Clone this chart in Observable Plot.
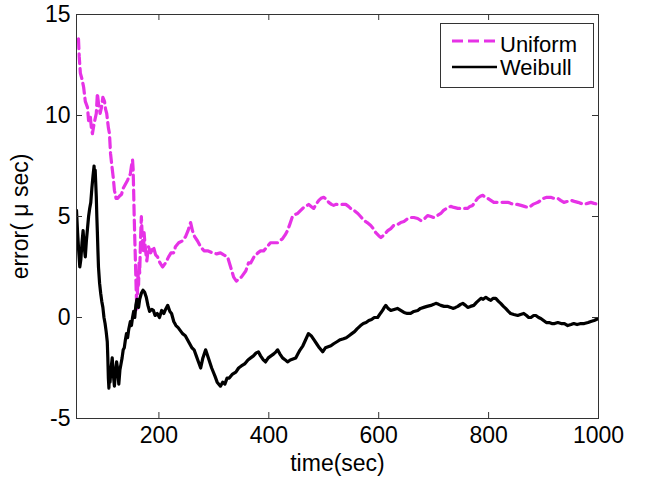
<!DOCTYPE html>
<html><head><meta charset="utf-8">
<script src="https://cdn.jsdelivr.net/npm/d3@7"></script>
<script src="https://cdn.jsdelivr.net/npm/@observablehq/plot@0.6"></script>
<style>body{margin:0;background:#fff}</style>
</head><body><div id="chart"></div>
<script>
const seriesNames = ["Uniform", "Weibull"];
const seriesColors = ["#e632e6", "#000000"];
const xTicks = [200, 400, 600, 800, 1000];
const yTicks = [-5, 0, 5, 10, 15];
const xDomain = [50, 1000];
const yDomain = [-5, 15];
const xLabel = "time(sec)";
const yLabel = "error( μ sec)";

const uniformTime = [53.6,55,57,60,63,66,70,72,75,77,79,82,86,88,90,93,95.5,98,101,103,105,106.5,108,110,112,114,117,119,122,125,128,132,135,139,143,146,148,150,152,153,154,155,156,157,158,159,160,161,162,163,164,165,166.5,168,170,172,173,175.7,178,181,185,190,194,197.5,202,206.6,212,217.6,222,226.7,230,236,243,248.5,253,257.7,261,265,270,276,282,288.6,297.7,305,312,318,325,330.5,336,341,345,350,358,363,367,373,380,385,390.6,397,403,410,416,420,425,430,434,438,443,448,452.5,458,463.5,468,472.6,477,481.7,486,491,495,500,505,509,514,518,522,527,533,540,545,549,555,562,567,573,579,585.5,590,594.6,600,604,608,613,616.5,622,627,634,640,646,653,658,664,671,676.6,682,689,695,700,707,713,718,726,731,737,744,749.5,756,762,766,771,776,780,785,789.5,794,798.6,804,809.5,815,822,828,835,840,846,852,859,865,871.5,876,880.6,885,889.7,895,900.6,906,913,919,926,931,937,944,950,956,962.6,968,973.5,980,986,992,999];
const uniformError = [13.8,12.9,12.1,11.8,11.4,10.7,10.4,9.75,10.0,9.4,9.1,9.6,10.1,11.1,10.6,10.1,10.4,10.9,10.7,10.3,10.1,9.75,9.4,9.1,8.1,7.6,6.9,6.3,5.9,5.9,6.0,6.1,6.4,6.6,6.8,7.0,7.1,7.5,7.8,7.4,6.3,5.0,4.0,3.0,2.0,1.0,0.4,1.3,2.2,1.6,2.8,2.2,3.8,5.0,3.8,3.2,4.2,3.3,2.8,3.5,3.2,3.5,3.1,3.0,2.7,2.5,2.7,3.0,3.2,3.2,3.5,3.7,3.8,4.0,4.3,4.7,4.3,4.0,3.8,3.5,3.3,3.3,3.2,3.15,3.2,3.1,3.0,2.5,2.0,1.8,1.9,2.0,2.3,2.7,2.7,3.0,3.2,3.3,3.3,3.5,3.7,3.7,3.7,3.8,3.9,4.1,4.3,4.6,5.0,5.1,5.15,5.3,5.45,5.5,5.6,5.5,5.4,5.6,5.8,5.9,5.95,5.85,5.7,5.6,5.55,5.6,5.6,5.6,5.6,5.5,5.4,5.3,5.15,5.0,4.8,4.7,4.55,4.4,4.2,4.05,3.96,4.05,4.2,4.3,4.4,4.55,4.6,4.7,4.75,4.9,4.95,4.95,4.9,4.8,4.85,5.05,5.0,4.95,5.05,5.15,5.3,5.45,5.5,5.45,5.4,5.4,5.4,5.4,5.5,5.55,5.75,5.9,6.0,6.05,5.95,5.9,5.8,5.7,5.7,5.7,5.7,5.7,5.65,5.6,5.6,5.55,5.5,5.45,5.5,5.6,5.65,5.7,5.8,5.9,5.95,5.95,5.9,5.9,5.8,5.7,5.75,5.8,5.75,5.7,5.65,5.6,5.65,5.7,5.65,5.6];

const weibullTime = [50,52,54,56,58,60,62,64,66,68,70,72,74,76,78,80,82,83,84,86,87,88,89,90,92,94,96,98,100,102,104,106,107,108,109,110,111,113,115,117,119,121,123,125,127,129,131,133,135,137,139,141,143,145,148,150,152,154,156,158,160,163,165,168,171,174,177,180,183,187,190,193,197,201,205,209,212,216,220,223,227,231,235,239,243,248,252,256,260,264,268,272,276,280,285,290,296,302,306,309,312,316,320,324,328,334,340,345,350,356,362,367,372,377,381,385,390,394,399,404,409,413,416,420,425,430,434,439,444,449,453,457,462,467,472,477,482,487,492,498,503,508,513,518,524,530,536,541,546,551,556,561,567,572,577,582,587,592,598,603,607,610,613,617,622,628,634,640,646,652,658,664,671,676,682,688,695,700,704,709,713,719,726,731,735,740,744,749,753,758,762,767,773,778,782,786,790,795,800,804,808,813,818,822,827,831,836,840,846,853,858,864,869,873,877,882,886,891,895,900,905,910,915,920,926,932,938,944,950,955,961,968,974,981,986,992,996,1000];
const weibullError = [5.3,4.2,3.3,2.5,2.9,3.7,4.3,3.5,3.0,3.8,4.4,5.0,5.4,5.7,6.4,7.0,7.5,6.8,7.3,6.0,5.0,4.2,3.3,2.5,1.7,1.2,0.8,0.5,0.0,-0.3,-0.7,-1.2,-2.0,-3.0,-3.5,-2.6,-3.2,-2.5,-2.0,-2.8,-3.4,-2.7,-2.2,-2.6,-3.3,-2.6,-2.3,-2.0,-1.6,-1.5,-1.1,-0.8,-1.0,-0.6,-0.2,-0.4,0.0,0.3,0.0,0.6,0.9,0.5,0.9,1.2,1.35,1.25,1.0,0.6,0.3,0.4,0.35,0.1,0.2,0.0,0.35,0.2,0.4,0.6,0.3,0.2,-0.2,-0.4,-0.5,-0.65,-0.8,-0.9,-1.1,-1.3,-1.5,-1.6,-1.9,-2.2,-2.5,-2.0,-1.6,-2.0,-2.5,-2.9,-3.2,-3.3,-3.4,-3.2,-3.3,-3.0,-3.0,-2.8,-2.7,-2.5,-2.4,-2.3,-2.1,-2.0,-1.9,-1.75,-1.7,-1.9,-2.1,-2.2,-2.0,-1.9,-1.8,-1.7,-1.6,-1.8,-2.0,-2.1,-2.2,-2.1,-2.05,-2.0,-1.8,-1.6,-1.4,-1.1,-0.8,-0.9,-1.1,-1.3,-1.5,-1.7,-1.5,-1.45,-1.4,-1.3,-1.2,-1.1,-1.05,-1.0,-0.9,-0.8,-0.7,-0.55,-0.4,-0.3,-0.25,-0.15,-0.1,0.0,0.0,0.2,0.35,0.5,0.6,0.45,0.35,0.4,0.45,0.35,0.25,0.2,0.2,0.3,0.35,0.45,0.5,0.55,0.6,0.65,0.7,0.65,0.6,0.55,0.55,0.5,0.45,0.5,0.55,0.65,0.7,0.6,0.5,0.55,0.6,0.75,0.85,0.95,0.9,1.0,0.9,0.85,0.95,0.95,0.8,0.7,0.55,0.45,0.3,0.2,0.15,0.1,0.15,0.2,0.1,0.0,0.0,0.1,0.1,0.0,-0.05,-0.15,-0.25,-0.25,-0.3,-0.3,-0.25,-0.3,-0.3,-0.4,-0.35,-0.3,-0.35,-0.3,-0.3,-0.25,-0.2,-0.15,-0.1,-0.05];

const uniform = uniformTime.map((t, i) => ({t, e: uniformError[i]}));
const weibull = weibullTime.map((t, i) => ({t, e: weibullError[i]}));

const W = 646, H = 478, mL = 76, mR = 48, mT = 14, mB = 60;
const innerW = W - mL - mR, innerH = H - mT - mB;
const font = '"Liberation Sans", Arial, Helvetica, sans-serif';

const chart = Plot.plot({
  width: W, height: H,
  marginLeft: mL, marginRight: mR, marginTop: mT, marginBottom: mB,
  style: {fontFamily: font, fontSize: "23px", background: "#fff", color: "#000"},
  x: {domain: xDomain, label: null},
  y: {domain: yDomain, label: null},
  marks: [
    Plot.line(uniform, {x: "t", y: "e", stroke: seriesColors[0], strokeWidth: 3.2, strokeDasharray: "10,5", clip: true}),
    Plot.line(weibull, {x: "t", y: "e", stroke: seriesColors[1], strokeWidth: 3.2, clip: true}),
    Plot.frame({stroke: "#333", strokeWidth: 1}),
    Plot.ruleX(xTicks, {insetTop: innerH - 6, stroke: "#333"}),
    Plot.ruleX(xTicks, {insetBottom: innerH - 6, stroke: "#333"}),
    Plot.ruleY(yTicks, {insetRight: innerW - 6, stroke: "#333"}),
    Plot.ruleY(yTicks, {insetLeft: innerW - 6, stroke: "#333"}),
    Plot.axisX(xTicks, {tickSize: 0, tickPadding: 8, fontSize: 23, label: null, tickFormat: d => String(d)}),
    Plot.axisY(yTicks, {tickSize: 0, tickPadding: 6, fontSize: 23, label: null, tickFormat: d => String(d)}),
    Plot.text([xLabel], {text: d => d, frameAnchor: "bottom", dy: 45, fontSize: 23, lineAnchor: "middle"}),
    Plot.text([yLabel], {text: d => d, frameAnchor: "left", dx: -56, rotate: -90, textAnchor: "middle", lineAnchor: "middle", fontSize: 23})
  ]
});

// Legend inside the plot area (top-right)
const svg = d3.select(chart);
const lg = svg.append("g").attr("font-family", font).attr("font-size", 22).attr("text-anchor", "start");
lg.append("rect").attr("x", 440.5).attr("y", 23.5).attr("width", 153).attr("height", 64)
  .attr("fill", "#fff").attr("stroke", "#333").attr("stroke-width", 1);
const rows = [{y: 41, ty: 52, dash: "11,5", w: 3}, {y: 67, ty: 75, dash: null, w: 2.5}];
seriesNames.forEach((name, i) => {
  const r = rows[i];
  const ln = lg.append("line").attr("x1", 452).attr("x2", 497).attr("y1", r.y).attr("y2", r.y)
    .attr("stroke", seriesColors[i]).attr("stroke-width", r.w);
  if (r.dash) ln.attr("stroke-dasharray", r.dash);
  lg.append("text").attr("x", 500).attr("y", r.ty).attr("text-anchor", "start").attr("fill", "#000").text(name);
});

document.getElementById("chart").appendChild(chart);
</script>
</body></html>
